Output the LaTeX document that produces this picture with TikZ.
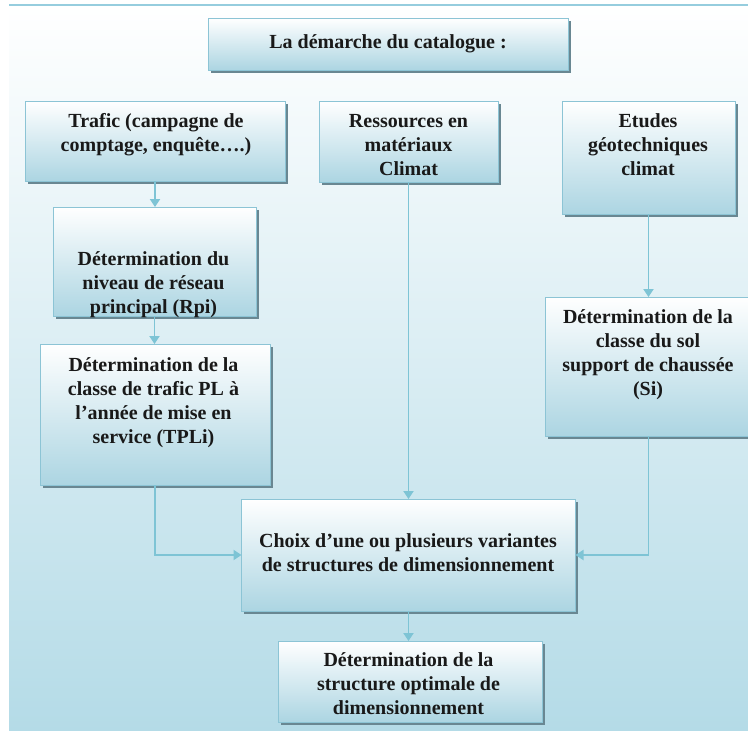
\documentclass[tikz,border=0pt]{standalone}
\usepackage{fontspec}
\setmainfont{Liberation Serif}
\usetikzlibrary{arrows.meta,shadows}
\definecolor{bgblue}{RGB}{180,219,231}
\definecolor{boxblue}{RGB}{172,213,226}
\definecolor{boxline}{RGB}{140,196,213}
\definecolor{shadowc}{RGB}{105,135,146}
\definecolor{arrc}{RGB}{126,196,213}
\definecolor{topline}{RGB}{150,205,222}
\definecolor{textc}{RGB}{25,25,25}
\newcommand\tstrut{\rule{0pt}{15pt}}
\begin{document}
\begin{tikzpicture}[x=1pt,y=-1pt,
  box/.style={draw=boxline, line width=0.8pt, top color=white, bottom color=boxblue,
    inner sep=0pt, outer sep=0pt,
    drop shadow={shadow xshift=2.5pt, shadow yshift=-2.5pt, fill=shadowc, opacity=1}},
  txt/.style={font=\fontsize{20}{24}\selectfont\bfseries, align=center, inner sep=0pt,
    text=textc, anchor=north},
  arr/.style={draw=arrc, line width=1.8pt, -{Triangle[width=10pt,length=8pt]}}]
\useasboundingbox (0,0) rectangle (748,731);
\shade[top color=white, bottom color=bgblue] (9,5) rectangle (748,731);
\draw[topline, line width=1.5pt] (9,5) -- (748,5);

% boxes
\node[box, minimum width=360pt, minimum height=52pt] (title) at (388,44) {};
\node[box, minimum width=260pt, minimum height=80pt] (trafic) at (155,141) {};
\node[box, minimum width=179pt, minimum height=81pt] (res) at (408.5,141.5) {};
\node[box, minimum width=173pt, minimum height=113pt] (etudes) at (648.5,157.5) {};
\node[box, minimum width=203pt, minimum height=109pt] (rpi) at (154.5,261.5) {};
\node[box, minimum width=230pt, minimum height=141pt] (tpli) at (155,414.5) {};
\node[box, minimum width=205pt, minimum height=139pt] (si) at (647.5,366.5) {};
\node[box, minimum width=334pt, minimum height=112pt] (choix) at (408.5,555) {};
\node[box, minimum width=264pt, minimum height=81pt] (final) at (410,681.5) {};

% texts
\node[txt] (ttitle) at (388,33) {\tstrut La démarche du catalogue :};
\node[txt] (ttrafic) at (156,112) {\tstrut Trafic (campagne de\\comptage, enquête….)};
\node[txt] (tres) at (408.5,112) {\tstrut Ressources en\\matériaux\\Climat};
\node[txt] (tetudes) at (648,112) {\tstrut Etudes\\géotechniques\\climat};
\node[txt] (trpi) at (153.5,250) {\tstrut Détermination du\\niveau de réseau\\principal (Rpi)};
\node[txt] (ttpli) at (153.5,356) {\tstrut Détermination de la\\classe de trafic PL à\\l’année de mise en\\service (TPLi)};
\node[txt] (tsi) at (648,308) {\tstrut Détermination de la\\classe du sol\\support de chaussée\\(Si)};
\node[txt] (tchoix) at (408,532) {\tstrut Choix d’une ou plusieurs variantes\\de structures de dimensionnement};
\node[txt] (tfinal) at (408.5,651) {\tstrut Détermination de la\\structure optimale de\\dimensionnement};

% connectors
\draw[arr] (trafic.south) -- (trafic.south |- rpi.north);
\draw[arr] (rpi.south) -- (rpi.south |- tpli.north);
\draw[arr] (res.south) -- (res.south |- choix.north);
\draw[arr] (etudes.south) -- (etudes.south |- si.north);
\draw[arr] (tpli.south) |- (choix.west);
\draw[arr] (si.south -| etudes.south) |- (choix.east);
\draw[arr] (choix.south) -- (choix.south |- final.north);
\end{tikzpicture}
\end{document}
